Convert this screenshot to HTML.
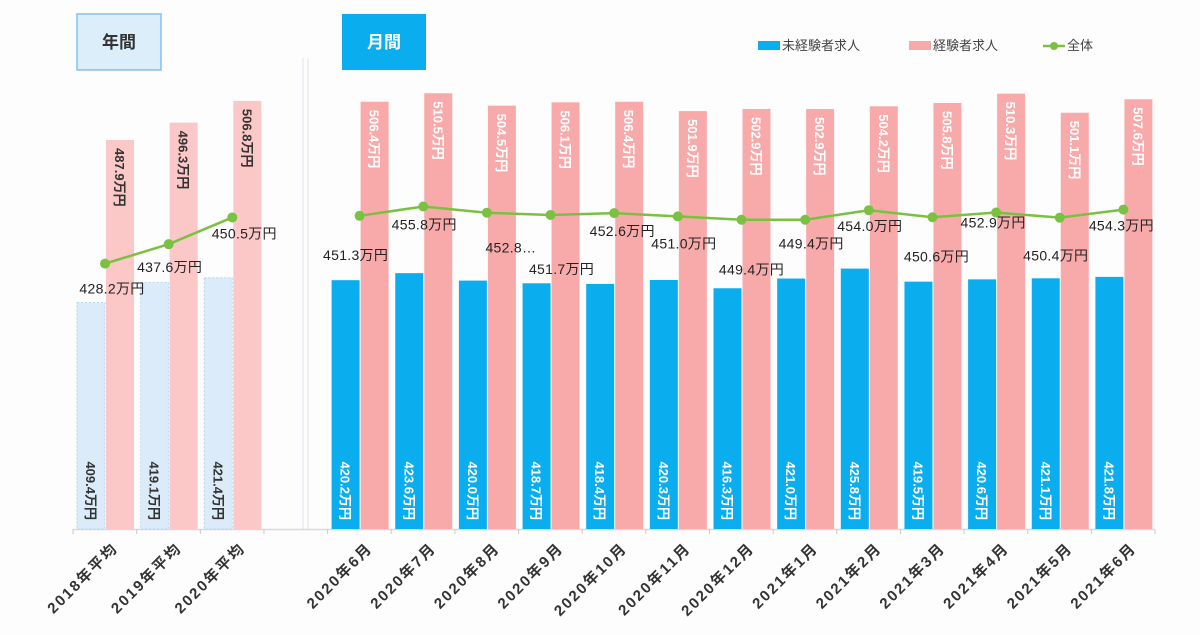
<!DOCTYPE html>
<html><head><meta charset="utf-8">
<style>
html,body{margin:0;padding:0;background:#fdfdfd;}
body{width:1200px;height:630px;overflow:hidden;font-family:"Liberation Sans","Noto Sans CJK JP",sans-serif;}
svg text{font-family:"Liberation Sans","Noto Sans CJK JP",sans-serif;}
</style></head>
<body>
<svg id="chart" width="1200" height="630" viewBox="0 0 1200 630" xmlns="http://www.w3.org/2000/svg">
<rect x="0" y="0" width="1200" height="630" fill="#fdfdfd"/>
<g>
<rect x="77" y="14" width="84" height="56" fill="#ddeefb" stroke="#7fc4f0" stroke-width="1.5"/>
<text x="119" y="48" text-anchor="middle" font-size="17" font-weight="bold" fill="#333">年間</text>
</g>
<g>
<rect x="342" y="14" width="84" height="56" fill="#0aaeef"/>
<text x="384" y="48" text-anchor="middle" font-size="17" font-weight="bold" fill="#fff">月間</text>
</g>
<line x1="303" y1="58" x2="303" y2="529" stroke="#dde4ea" stroke-width="1"/>
<line x1="308" y1="58" x2="308" y2="529" stroke="#dde4ea" stroke-width="1"/>
<g>
<rect x="758" y="41" width="22" height="9" fill="#0aaeef"/>
<text x="782" y="50" font-size="13" fill="#444">未経験者求人</text>
<rect x="909" y="41" width="22" height="9" fill="#f8aaaa"/>
<text x="933" y="50" font-size="13" fill="#444">経験者求人</text>
<line x1="1043" y1="46" x2="1065" y2="46" stroke="#7ac142" stroke-width="2.5"/>
<circle cx="1054" cy="46" r="4" fill="#7ac142"/>
<text x="1067" y="50" font-size="13" fill="#444">全体</text>
</g>
<g id="plot"></g>
</svg>
<script>
const categories=["2018年平均","2019年平均","2020年平均","","2020年6月","2020年7月","2020年8月","2020年9月","2020年10月","2020年11月","2020年12月","2021年1月","2021年2月","2021年3月","2021年4月","2021年5月","2021年6月"];
const inexperienced=[409.4,419.1,421.4,null,420.2,423.6,420.0,418.7,418.4,420.3,416.3,421.0,425.8,419.5,420.6,421.1,421.8];
const experienced=[487.9,496.3,506.8,null,506.4,510.5,504.5,506.1,506.4,501.9,502.9,502.9,504.2,505.8,510.3,501.1,507.6];
const total=[428.2,437.6,450.5,null,451.3,455.8,452.8,451.7,452.6,451.0,449.4,449.4,454.0,450.6,452.9,450.4,454.3];
const totalLabels=["428.2万円","437.6万円","450.5万円","","451.3万円","455.8万円","452.8…","451.7万円","452.6万円","451.0万円","449.4万円","449.4万円","454.0万円","450.6万円","452.9万円","450.4万円","454.3万円"];

const NS="http://www.w3.org/2000/svg";
const plot=document.getElementById('plot');
const X0=73,SLOT=63.65,BASE=529,VMIN=300,K=2.07;
const xs=i=>X0+i*SLOT;
const y=v=>BASE-(v-VMIN)*K;
const lblOff=[[7,25],[1,23],[12,16],null,[-4,39],[1,18],[24,35],[11,54],[8,18],[6,27],[10,50],[6,24],[1,16],[4,39],[-3,10],[-4,38],[-2,16]];
function mk(tag,attrs,parent){const e=document.createElementNS(NS,tag);for(const k in attrs)e.setAttribute(k,attrs[k]);(parent||plot).appendChild(e);return e;}

const ax=mk('line',{x1:X0,y1:BASE+0.5,x2:xs(17),y2:BASE+0.5,stroke:'#d5dbe0','stroke-width':1.5});


for(let i=0;i<=17;i++){
  const t=mk('line',{x1:xs(i),y1:BASE,x2:xs(i),y2:BASE+5,stroke:'#ccb',"stroke-width":1});
  
  
}
categories.forEach((c,i)=>{
  if(!c)return;
  const cx=xs(i)+SLOT/2;
  const t=mk('text',{x:0,y:0,'text-anchor':'end','font-size':15,'font-weight':'bold',fill:'#333','letter-spacing':'2',transform:`translate(${cx+14},${BASE+20}) rotate(-45)`});
  t.textContent=c;
  
  
});
categories.forEach((c,i)=>{
  if(inexperienced[i]==null)return;
  const annual=i<3;
  const bx=xs(i)+4,bw=28;
  const yb=y(inexperienced[i]);
  const b=mk('rect',{x:bx,y:yb,width:bw,height:BASE-yb,fill:annual?'#dcebfa':'#0aaeef',stroke:annual?'#b5d6f2':'none','stroke-dasharray':annual?'2,2':''});
  
  
  const lt=mk('text',{x:0,y:0,'font-size':13,'font-weight':'bold',fill:annual?'#333':'#fff','text-anchor':'end',transform:`translate(${bx+bw/2-5},${BASE-9}) rotate(90)`});
  lt.textContent=inexperienced[i].toFixed(1)+'万円';
  
  
  const px=xs(i)+33;
  const yp=y(experienced[i]);
  const p=mk('rect',{x:px,y:yp,width:28,height:BASE-yp,fill:annual?'#fbc7c7':'#f8aaaa'});
  
  
  const pt=mk('text',{x:0,y:0,'font-size':13,'font-weight':'bold',fill:annual?'#333':'#fff','text-anchor':'start',transform:`translate(${px+9},${yp+8}) rotate(90)`});
  pt.textContent=experienced[i].toFixed(1)+'万円';
  
  
});
function seg(a,b){
  const pts=[];for(let i=a;i<=b;i++)pts.push((xs(i)+32)+','+y(total[i]));
  const l=mk('polyline',{points:pts.join(' '),fill:'none',stroke:'#7ac142','stroke-width':2.5});
  
  
}
seg(0,2);seg(4,16);
total.forEach((v,i)=>{
  if(v==null)return;
  const cx=xs(i)+32,cy=y(v);
  const c=mk('circle',{cx:cx,cy:cy,r:5,fill:'#7ac142'});
  
  
  const o=lblOff[i];
  const t=mk('text',{x:cx+o[0],y:cy+o[1]+5,'text-anchor':'middle','font-size':14,fill:'#222','letter-spacing':'0.3'});
  t.textContent=totalLabels[i];
  
  
});
</script>
</body></html>
